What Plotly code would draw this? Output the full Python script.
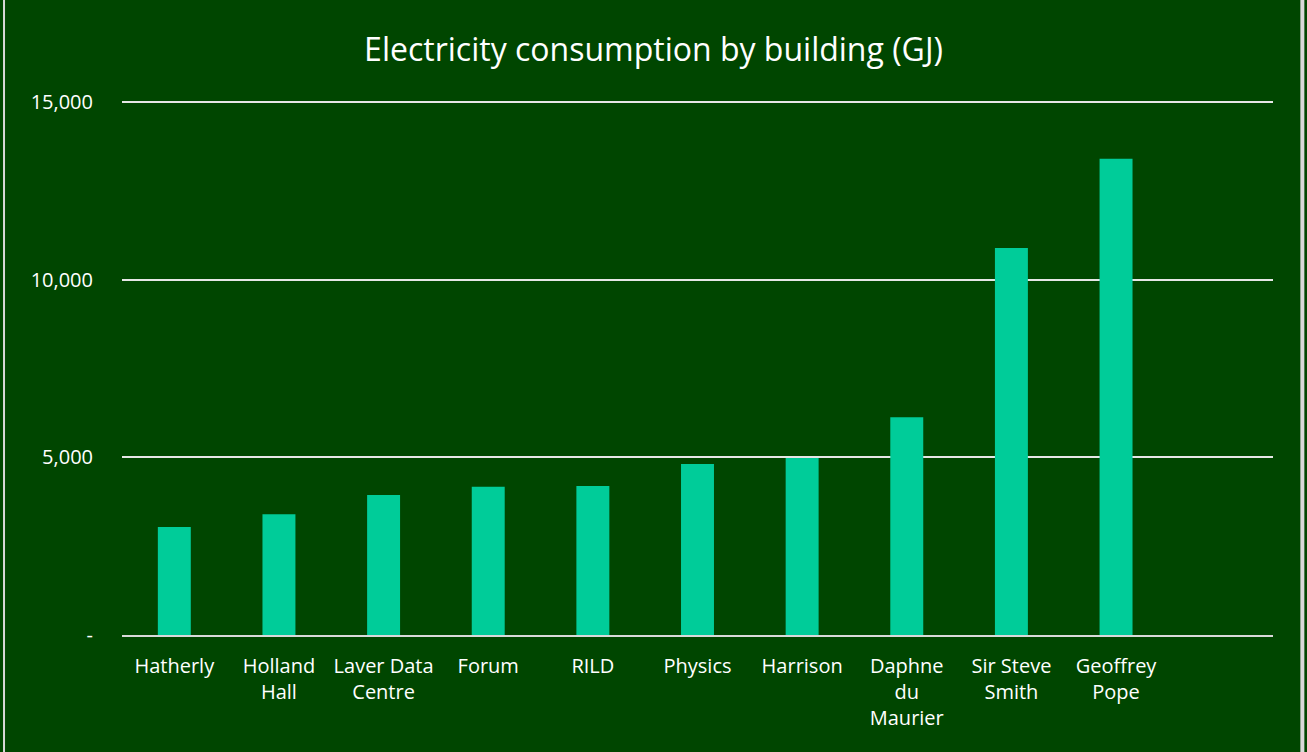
import plotly.graph_objects as go

# Electricity consumption per building (GJ)
BUILDINGS = ["Hatherly", "Holland<br>Hall", "Laver Data<br>Centre", "Forum", "RILD",
             "Physics", "Harrison", "Daphne<br>du<br>Maurier", "Sir Steve<br>Smith",
             "Geoffrey<br>Pope", " "]
CONSUMPTION = [3040, 3400, 3940, 4170, 4190, 4810, 4980, 6130, 10890, 13400, None]
TICK_VALS = [0, 5000, 10000, 15000]
TICK_TEXT = ["-", "5,000", "10,000", "15,000"]

BG = "#004600"
BAR = "#00CC99"
FONT = "Open Sans, Liberation Sans, sans-serif"

fig = go.Figure()
fig.add_bar(
    x=BUILDINGS, y=CONSUMPTION,
    marker=dict(color=BAR, line=dict(width=0)),
    hovertemplate="%{x}: %{y:,}<extra></extra>",
)

fig.update_layout(
    width=1307, height=752,
    paper_bgcolor=BG, plot_bgcolor=BG,
    margin=dict(l=122, r=34, t=99, b=117),
    bargap=0.685,
    showlegend=False,
    font=dict(family=FONT, color="white", size=20),
    title=dict(text="Electricity consumption by building (GJ)",
               x=0.5, xanchor="center", y=0.934, yanchor="middle",
               font=dict(size=32, color="white", family=FONT)),
    xaxis=dict(showgrid=False, showline=True, linecolor="#d9d9d9", linewidth=2,
               ticks="", tickfont=dict(size=20), ticklabelstandoff=12,
               tickangle=0),
    yaxis=dict(range=[0, 15085], tickvals=TICK_VALS, ticktext=TICK_TEXT,
               showgrid=True, gridcolor="#e6e6e6", gridwidth=1.5,
               zeroline=False, showline=False, ticks="",
               tickfont=dict(size=20), ticklabelstandoff=28),
)

# thin light frame at the chart's left and right edges
fig.add_shape(type="line", xref="paper", yref="paper",
              x0=-0.1025, x1=-0.1025, y0=-0.3, y1=1.3,
              line=dict(color="#d9d9d9", width=2), layer="above")
fig.add_shape(type="line", xref="paper", yref="paper",
              x0=1.0255, x1=1.0255, y0=-0.3, y1=1.3,
              line=dict(color="#d9d9d9", width=4), layer="above")

fig.write_html("out.html", config={"displayModeBar": False},
               post_script="document.body.style.margin='0';")
